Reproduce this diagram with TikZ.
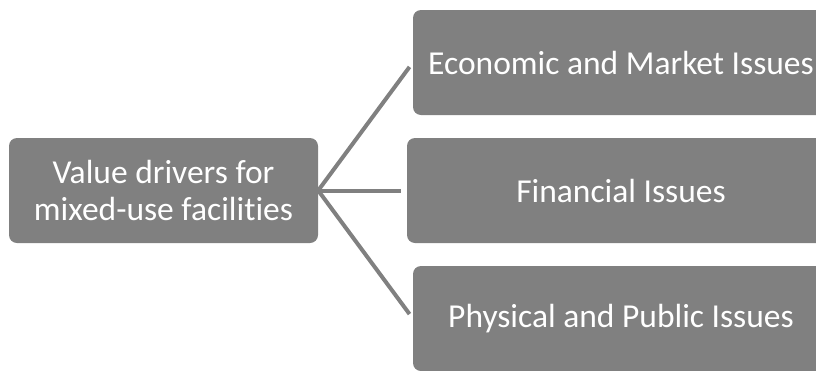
\documentclass[tikz,border=0pt]{standalone}
\usepackage{fontspec}
\setmainfont{Carlito}[Ligatures=NoCommon]
\definecolor{boxgray}{HTML}{808080}

\begin{document}
\begin{tikzpicture}[x=1pt,y=1pt,grow'=right,level 1/.style={level distance=457.5pt,sibling distance=128pt},every node/.style = {fill=boxgray, text=white, align=center, rounded corners=8pt, minimum height=105pt, font=\fontsize{33.5}{37}\selectfont},issue/.style={minimum width=416pt},edge from parent/.style={draw=boxgray,line width=4pt,shorten >=5.5pt},edge from parent path={(\tikzparentnode.east) -- (\tikzchildnode.west)}]
\useasboundingbox (0,0) rectangle (816,-370);
\node[minimum width=309pt](root) at (163.5,-190.5) {Value drivers for\\mixed-use facilities}
child { node[issue] (econ) {Economic and Market Issues} }
child { node[issue,minimum width=428pt] (fin) {Financial Issues} }
child { node[issue] (phys) {Physical and Public Issues} };
\end{tikzpicture}
\end{document}
